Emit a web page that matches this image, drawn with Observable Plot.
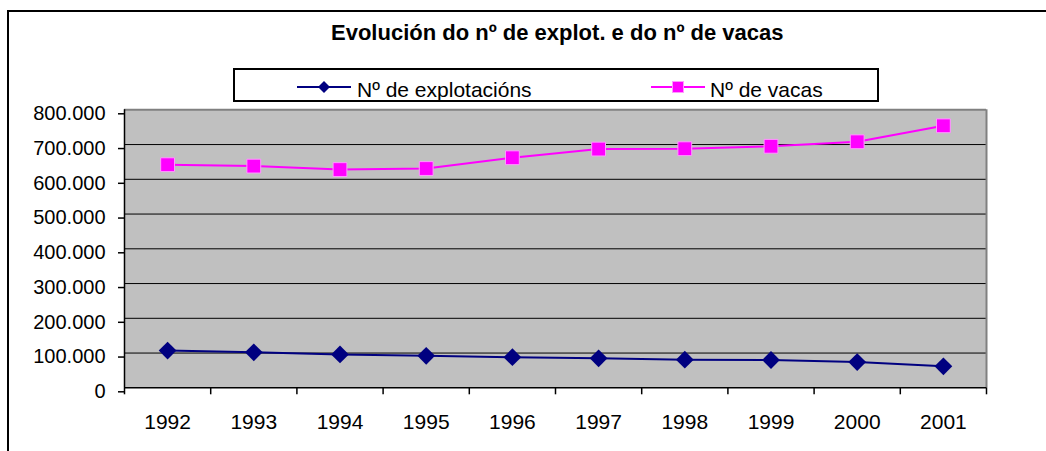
<!DOCTYPE html>
<html>
<head>
<meta charset="utf-8">
<script src="https://cdn.jsdelivr.net/npm/d3@7"></script>
<script src="https://cdn.jsdelivr.net/npm/@observablehq/plot@0.6"></script>
<style>
  html, body { margin: 0; padding: 0; background: #fff; overflow: hidden; width: 1046px; height: 451px; }
  body { position: relative; font-family: Arial, "Liberation Sans", sans-serif; color: #000; }
  #frame { position: absolute; left: 7px; top: 10px; width: 1100px; height: 500px; border: 2px solid #000; box-sizing: border-box; }
  #title { position: absolute; left: 331px; top: 22px; font-size: 22px; font-weight: bold; line-height: 22px; white-space: nowrap; }
  #legend { position: absolute; left: 233px; top: 68px; width: 646px; height: 34px; border: 2px solid #000; box-sizing: border-box; background: #fff; }
  #legend svg { position: absolute; left: 0; top: 0; }
  .ltext { position: absolute; font-size: 21px; line-height: 21px; white-space: nowrap; top: 9px; }
  #chart { position: absolute; left: 0; top: 100px; }
  #chart svg { display: block; }
</style>
</head>
<body>
<div id="frame"></div>
<div id="title">Evolución do nº de explot. e do nº de vacas</div>
<div id="legend"></div>
<div id="chart"></div>
<script>
const years = [1992, 1993, 1994, 1995, 1996, 1997, 1998, 1999, 2000, 2001];
const explotacions = [107000, 102000, 96000, 92000, 88000, 85000, 81000, 80000, 74000, 62000];
const vacas = [642000, 638000, 628000, 631000, 662000, 687000, 688000, 695000, 708000, 754000];
const yTicks = [0, 100000, 200000, 300000, 400000, 500000, 600000, 700000, 800000];
const seriesNames = ["Nº de explotacións", "Nº de vacas"];
const seriesColors = ["#000080", "#FF00FF"];

const rowsExplot = years.map((y, i) => ({year: y, value: explotacions[i]}));
const rowsVacas = years.map((y, i) => ({year: y, value: vacas[i]}));
const bounds = [...years.map(y => y - 0.5), years[years.length - 1] + 0.5];
const xMin = bounds[0], xMax = bounds[bounds.length - 1];
const grid = yTicks.filter(v => v > 0 && v < 800000);
const fmt = d => d === 0 ? "0" : d3.format(",")(d).replace(/,/g, ".");

const chart = Plot.plot({
  width: 1046,
  height: 351,
  marginLeft: 124,
  marginRight: 60,
  marginTop: 9.3,
  marginBottom: 63.7,
  style: {fontFamily: "Arial, 'Liberation Sans', sans-serif", fontSize: "20px", color: "#000", background: "transparent", overflow: "visible"},
  x: {type: "linear", domain: [xMin, xMax], axis: null},
  y: {type: "linear", domain: [0, 800000], axis: null},
  marks: [
    Plot.frame({fill: "#C0C0C0", stroke: "none"}),
    Plot.ruleY(grid, {stroke: "#000", strokeWidth: 1}),
    Plot.ruleY([800000], {stroke: "#808080", strokeWidth: 2}),
    Plot.ruleX([xMax], {stroke: "#808080", strokeWidth: 2}),
    Plot.ruleY([0], {stroke: "#000", strokeWidth: 1.5}),
    Plot.ruleX([xMin], {stroke: "#000", strokeWidth: 1.5}),
    Plot.axisY({ticks: yTicks, tickSize: 6, tickPadding: 13, tickFormat: fmt, fontSize: 20, dy: 4, strokeWidth: 1.5, label: null}),
    Plot.axisX({ticks: bounds, tickSize: 7, tickFormat: () => "", strokeWidth: 1.5, label: null}),
    Plot.axisX({ticks: years, tickSize: 0, tickPadding: 26, tickFormat: d => String(d), fontSize: 21, label: null}),
    Plot.line(rowsExplot, {x: "year", y: "value", stroke: seriesColors[0], strokeWidth: 2}),
    Plot.dot(rowsExplot, {x: "year", y: "value", symbol: "diamond2", r: 8, fill: seriesColors[0], stroke: "none"}),
    Plot.line(rowsVacas, {x: "year", y: "value", stroke: seriesColors[1], strokeWidth: 2}),
    Plot.dot(rowsVacas, {x: "year", y: "value", symbol: "square", r: 7.8, fill: seriesColors[1], stroke: "#FF99FF", strokeWidth: 1})
  ]
});
document.getElementById("chart").appendChild(chart);

// Legend (outside the SVG chart)
const legend = document.getElementById("legend");
const ns = "http://www.w3.org/2000/svg";
const lsvg = document.createElementNS(ns, "svg");
lsvg.setAttribute("width", 646);
lsvg.setAttribute("height", 34);
legend.appendChild(lsvg);
const lx = [62, 416];   // line start x relative to legend left edge
const tx = [122, 475];  // text left
seriesNames.forEach((name, i) => {
  const line = document.createElementNS(ns, "line");
  line.setAttribute("x1", lx[i]); line.setAttribute("x2", lx[i] + 54);
  line.setAttribute("y1", 17); line.setAttribute("y2", 17);
  line.setAttribute("stroke", seriesColors[i]); line.setAttribute("stroke-width", 2);
  lsvg.appendChild(line);
  const cx = lx[i] + 27;
  if (i === 0) {
    const p = document.createElementNS(ns, "path");
    p.setAttribute("d", `M${cx},${17 - 6}L${cx + 6},17L${cx},${17 + 6}L${cx - 6},17Z`);
    p.setAttribute("fill", seriesColors[i]);
    lsvg.appendChild(p);
  } else {
    const r = document.createElementNS(ns, "rect");
    r.setAttribute("x", cx - 5.5); r.setAttribute("y", 17 - 5.5);
    r.setAttribute("width", 11); r.setAttribute("height", 11);
    r.setAttribute("fill", seriesColors[i]); r.setAttribute("stroke", "#FF99FF");
    lsvg.appendChild(r);
  }
  const t = document.createElement("div");
  t.className = "ltext";
  t.style.left = tx[i] + "px";
  t.textContent = name;
  legend.appendChild(t);
});
</script>
</body>
</html>
